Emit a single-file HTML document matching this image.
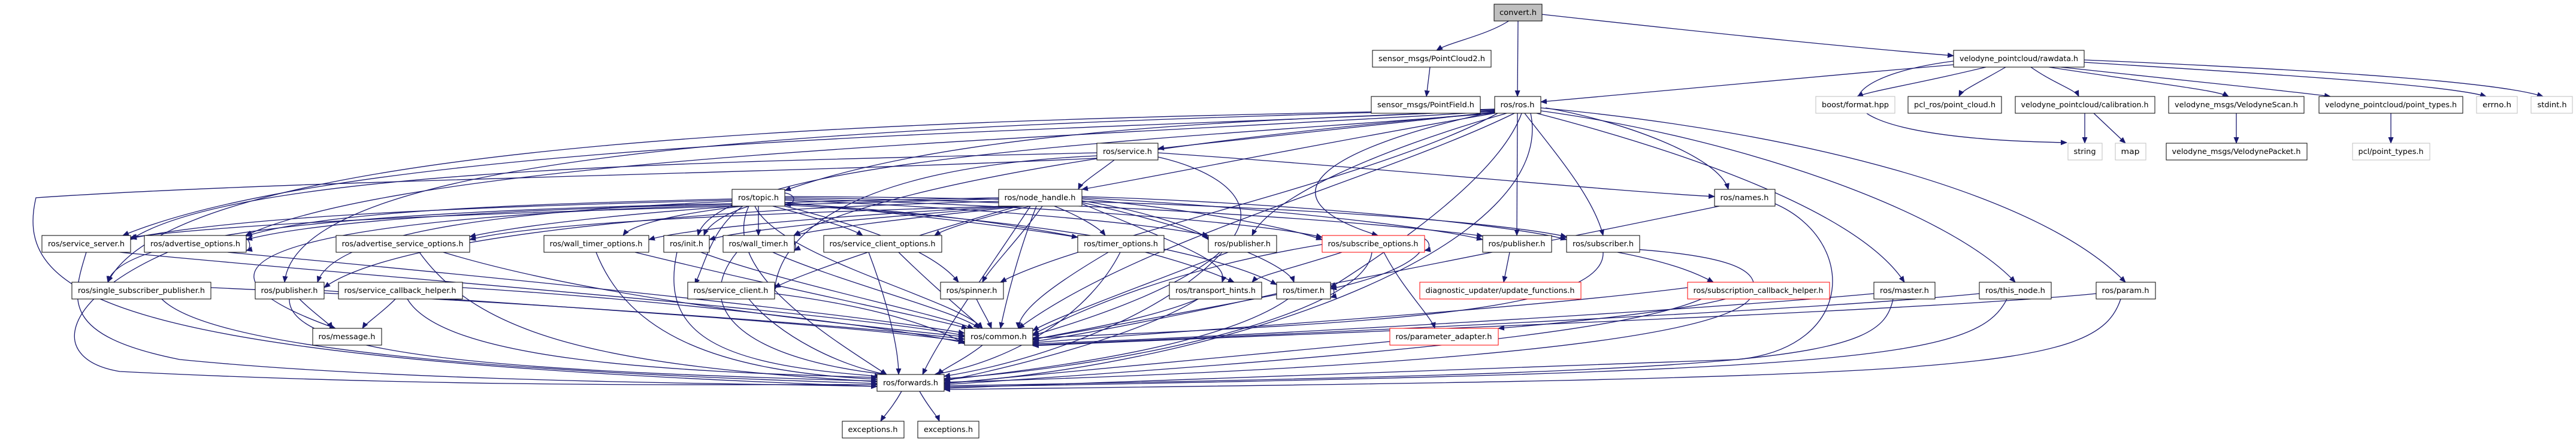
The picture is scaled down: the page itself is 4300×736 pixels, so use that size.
<!DOCTYPE html>
<html><head><meta charset="utf-8"><style>
html,body{margin:0;padding:0;background:#fff;}
svg{display:block;}
text{font-family:"DejaVu Sans","Liberation Sans",sans-serif;font-size:12px;fill:#000;}
.e{fill:none;stroke:#191970;stroke-width:1.3;marker-end:url(#a);}
.n{fill:#fff;stroke:#000;stroke-width:1;}
.g{fill:#fff;stroke:#bfbfbf;stroke-width:1;}
.r{fill:#fff;stroke:#ff0000;stroke-width:1;}
.c{fill:#bfbfbf;stroke:#000;stroke-width:1;}
.s{fill:none;stroke:#555;stroke-width:1.6;}
</style></head><body>
<svg width="4300" height="736" viewBox="0 0 4300 736" xmlns="http://www.w3.org/2000/svg">
<defs><marker id="a" markerWidth="11" markerHeight="9" refX="10" refY="4.5" orient="auto" markerUnits="userSpaceOnUse"><path d="M0,0L11,4.5L0,9z" fill="#191970"/></marker></defs>
<g>
<!-- top -->
<path class="e" d="M2520,34 C2480,60 2420,70 2398,84"/>
<path class="e" d="M2534,34 L2533,161"/>
<path class="e" d="M2574,24 C2900,60 3100,80 3261,93"/>
<path class="e" d="M2387,112 L2381,161"/>
<path class="e" d="M3261,108 C3000,130 2700,160 2572,170"/>
<path class="e" d="M3315,112 C3200,140 3130,150 3100,161"/>
<path class="e" d="M3348,112 C3300,140 3275,150 3270,161"/>
<path class="e" d="M3390,112 C3430,140 3465,150 3470,161"/>
<path class="e" d="M3420,112 C3600,140 3700,150 3720,161"/>
<path class="e" d="M3440,112 C3700,140 3850,155 3890,161"/>
<path class="e" d="M3479,104 C3900,130 4100,145 4150,161"/>
<path class="e" d="M3479,100 C3950,120 4180,140 4245,161"/>
<path class="e" d="M3261,102 C3040,130 3000,230 3450,238"/>
<path class="e" d="M3480,189 L3480,239"/>
<path class="e" d="M3495,189 L3548,239"/>
<path class="e" d="M3733,189 L3733,239"/>
<path class="e" d="M3991,189 L3991,239"/>
<!-- ros.h -->
<path class="e" d="M2495,187 C2200,220 2000,240 1933,248"/>
<path class="e" d="M2495,189 C2200,240 1900,300 1806,316"/>
<path class="e" d="M2495,185 C2100,200 1600,215 1310,318"/>
<path class="e" d="M2580,180 C2700,200 2870,260 2885,316"/>
<path class="e" d="M2495,189 C2000,230 1200,260 1165,393"/>
<path class="e" d="M2515,189 C2300,250 2120,330 2090,393"/>
<path class="e" d="M2533,189 L2532,393"/>
<path class="e" d="M2545,189 C2600,260 2660,330 2676,393"/>
<path class="e" d="M2528,189 C2300,300 1900,400 1700,548"/>
<path class="e" d="M2555,189 C2600,400 2100,600 1576,640"/>
<path class="e" d="M2565,189 C2800,250 3100,350 3179,471"/>
<path class="e" d="M2572,185 C2900,230 3250,350 3364,471"/>
<path class="e" d="M2572,180 C3000,220 3400,320 3548,471"/>
<path class="e" d="M2495,184 C1800,220 600,230 205,393"/>
<path class="e" d="M2495,186 C1800,230 700,260 410,393"/>
<path class="e" d="M2495,188 C2000,230 1500,300 1325,393"/>
<path class="e" d="M2540,189 C2500,300 2300,430 2221,480"/>
<path class="e" d="M2500,189 C2300,300 1800,400 1670,471"/>
<path class="e" d="M2495,183 C1500,200 300,230 180,471"/>
<path class="e" d="M2495,182 C1500,210 500,240 475,471"/>
<path class="e" d="M2495,186 C2200,250 2100,330 2300,393"/>
<!-- service.h -->
<path class="e" d="M1860,267 C1830,290 1805,305 1800,316"/>
<path class="e" d="M1933,255 C2300,280 2700,320 2862,328"/>
<path class="e" d="M1831,260 C1400,280 1300,400 1293,485"/>
<path class="e" d="M1933,262 C2100,300 2200,420 1724,560"/>
<path class="e" d="M1831,255 C1200,270 400,280 218,400"/>
<path class="e" d="M1831,264 C1300,290 500,300 60,330 C20,500 200,600 1464,645"/>
<!-- node_handle -->
<path class="e" d="M1667,330 C1200,340 600,350 411,400"/>
<path class="e" d="M1667,332 C1200,345 500,360 218,396"/>
<path class="e" d="M1680,344 C1300,355 900,370 784,400"/>
<path class="e" d="M1690,344 C1400,360 1150,380 1083,400"/>
<path class="e" d="M1700,344 C1500,360 1250,380 1184,400"/>
<path class="e" d="M1710,344 C1500,365 1350,385 1326,393"/>
<path class="e" d="M1720,344 C1650,360 1580,380 1560,393"/>
<path class="e" d="M1760,344 C1800,360 1835,380 1845,393"/>
<path class="e" d="M1806,335 C1900,350 2000,380 2017,400"/>
<path class="e" d="M1806,332 C2000,350 2150,380 2207,400"/>
<path class="e" d="M1806,330 C2100,345 2400,380 2475,400"/>
<path class="e" d="M1806,328 C2200,340 2550,380 2615,400"/>
<path class="e" d="M1700,344 C1500,400 1330,460 1293,480"/>
<path class="e" d="M1740,344 C1700,400 1650,450 1640,471"/>
<path class="e" d="M1806,338 C2000,380 2150,440 2160,471"/>
<path class="e" d="M1730,344 C1700,420 1680,500 1670,548"/>
<path class="e" d="M1720,344 C1650,450 1570,560 1540,625"/>
<path class="e" d="M1667,336 C1100,350 650,400 541,480"/>
<path class="e" d="M1806,340 C2000,420 2050,440 2040,471"/>
<!-- topic -->
<path class="e" d="M1222,332 C900,340 550,350 411,394"/>
<path class="e" d="M1222,334 C800,345 400,360 218,398"/>
<path class="e" d="M1230,344 C1000,360 850,380 784,395"/>
<path class="e" d="M1240,344 C1100,360 1050,380 1040,393"/>
<path class="e" d="M1250,344 C1200,360 1180,380 1175,393"/>
<path class="e" d="M1266,344 L1266,393"/>
<path class="e" d="M1290,344 C1350,360 1420,380 1440,393"/>
<path class="e" d="M1310,338 C1500,355 1700,380 1799,396"/>
<path class="e" d="M1310,334 C1600,345 1900,370 2017,393"/>
<path class="e" d="M1310,332 C1700,340 2100,370 2207,396"/>
<path class="e" d="M1310,330 C1800,335 2300,370 2475,394"/>
<path class="e" d="M1310,328 C1900,330 2450,360 2615,395"/>
<path class="e" d="M1222,336 C900,350 560,380 530,471"/>
<path class="e" d="M1240,344 C1190,380 1180,430 1160,475"/>
<path class="e" d="M1310,344 C1450,380 1560,420 1600,471"/>
<path class="e" d="M1260,344 C1300,430 1600,500 1640,548"/>
<path class="e" d="M1250,344 C1200,450 1380,560 1480,625"/>
<path class="e" d="M1222,340 C700,350 200,380 180,471"/>
<path class="e" d="M1222,342 C600,360 200,420 560,548"/>
<path class="e" d="M1310,340 C1700,360 1950,420 2060,471"/>
<path class="e" d="M1310,342 C1800,370 2050,430 2131,475"/>
<!-- row393 -> common/forwards -->
<path class="e" d="M144,421 C120,500 100,560 300,600 C700,640 1300,640 1464,645"/>
<path class="e" d="M200,421 C600,460 1400,520 1610,560"/>
<path class="e" d="M280,421 C100,500 80,600 200,620 C800,650 1300,640 1464,642"/>
<path class="e" d="M380,421 C800,460 1400,520 1610,556"/>
<path class="e" d="M700,421 C800,560 1000,610 1464,637"/>
<path class="e" d="M740,421 C1000,500 1400,540 1610,562"/>
<path class="e" d="M995,421 C1050,560 1200,620 1464,633"/>
<path class="e" d="M1060,421 C1300,480 1550,530 1615,548"/>
<path class="e" d="M1130,421 C1100,560 1200,610 1470,628"/>
<path class="e" d="M1170,421 C1300,470 1550,520 1625,548"/>
<path class="e" d="M1230,421 C1150,520 1250,600 1480,625"/>
<path class="e" d="M1290,421 C1400,470 1600,520 1635,548"/>
<path class="e" d="M1450,421 C1480,500 1500,580 1500,625"/>
<path class="e" d="M1500,421 C1560,480 1620,530 1640,548"/>
<path class="e" d="M1850,421 C1750,480 1700,520 1700,548"/>
<path class="e" d="M1870,421 C1820,520 1700,600 1560,625"/>
<path class="e" d="M2050,421 C1900,480 1760,530 1724,552"/>
<path class="e" d="M2040,421 C1950,520 1750,600 1576,628"/>
<path class="e" d="M2240,421 C2150,450 2100,460 2090,471"/>
<path class="e" d="M2310,421 C2340,480 2390,530 2395,548"/>
<path class="e" d="M2207,408 C1950,450 1800,520 1724,558"/>
<path class="e" d="M2290,421 C2280,520 1900,610 1576,632"/>
<path class="e" d="M2378,400 C2380,440 2280,470 2221,482"/>
<path class="e" d="M2520,421 L2510,471"/>
<path class="e" d="M2700,421 C2800,440 2840,460 2860,471"/>
<path class="e" d="M2676,421 C2680,520 2300,540 1724,564"/>
<path class="e" d="M2615,410 C2900,420 2950,450 2920,500 C2850,580 2200,620 1576,638"/>
<!-- row471 -->
<path class="e" d="M270,499 C350,580 800,620 1464,640"/>
<path class="e" d="M352,480 C800,500 1400,540 1610,566"/>
<path class="e" d="M483,499 C480,600 900,620 1464,636"/>
<path class="e" d="M541,485 C900,510 1400,540 1610,570"/>
<path class="e" d="M500,499 C520,520 550,540 555,548"/>
<path class="e" d="M660,499 C640,520 610,540 605,548"/>
<path class="e" d="M680,499 C740,600 1100,620 1464,630"/>
<path class="e" d="M772,480 C1100,500 1450,540 1610,572"/>
<path class="e" d="M1250,499 C1300,560 1400,610 1480,625"/>
<path class="e" d="M1293,490 C1450,510 1550,540 1612,574"/>
<path class="e" d="M1630,499 C1640,520 1650,535 1655,548"/>
<path class="e" d="M2000,499 C1900,540 1740,560 1724,568"/>
<path class="e" d="M2000,499 C1900,560 1700,610 1576,636"/>
<path class="e" d="M2131,490 C2000,520 1800,560 1724,570"/>
<path class="e" d="M2150,499 C2050,570 1800,610 1576,634"/>
<path class="e" d="M2880,499 C2800,520 2600,540 2501,548"/>
<path class="e" d="M2840,499 C2700,560 2200,600 1576,642"/>
<path class="e" d="M2817,480 C2500,520 2000,550 1724,572"/>
<path class="e" d="M3128,490 C2800,520 2100,560 1724,574"/>
<path class="e" d="M3160,499 C3140,600 3000,620 1576,644"/>
<path class="e" d="M3304,490 C3000,520 2100,560 1724,576"/>
<path class="e" d="M3350,499 C3300,600 3100,620 1576,646"/>
<path class="e" d="M3499,490 C3200,520 2100,560 1724,577"/>
<path class="e" d="M3540,499 C3500,620 3300,630 1576,650"/>
<path class="e" d="M2870,344 C2600,400 1900,540 1724,566"/>
<path class="e" d="M2963,340 C3100,400 3100,580 2900,600 C2400,620 1900,640 1576,648"/>
<path class="e" d="M2320,570 C2000,600 1700,630 1576,640"/>
<!-- common/forwards -->
<path class="e" d="M1640,576 C1610,600 1575,615 1565,625"/>
<path class="e" d="M1505,653 C1490,680 1475,695 1470,703"/>
<path class="e" d="M1535,653 C1550,680 1565,695 1568,703"/>
<!-- self loops -->
<path class="e" d="M1310,322 C1330,325 1330,340 1310,342"/>
<path class="e" d="M400,393 C420,396 420,416 411,418"/>
<path class="e" d="M1310,393 C1330,396 1330,416 1326,418"/>
<path class="e" d="M2360,393 C2390,396 2390,416 2378,418"/>
<path class="e" d="M2210,471 C2230,474 2230,494 2221,496"/>
</g>
<!-- nodes -->
<g>
<rect class="c" x="2494" y="7" width="80" height="28"/><text x="2534" y="25" text-anchor="middle" textLength="62" lengthAdjust="spacingAndGlyphs">convert.h</text>
<rect class="n" x="2291" y="84" width="198" height="28"/><text x="2390" y="102" text-anchor="middle" textLength="178" lengthAdjust="spacingAndGlyphs">sensor_msgs/PointCloud2.h</text>
<rect class="n" x="2289" y="161" width="182" height="28"/><text x="2380" y="179" text-anchor="middle" textLength="162" lengthAdjust="spacingAndGlyphs">sensor_msgs/PointField.h</text>
<rect class="n" x="2495" y="161" width="77" height="28"/><text x="2533" y="179" text-anchor="middle" textLength="57" lengthAdjust="spacingAndGlyphs">ros/ros.h</text>
<rect class="n" x="3261" y="84" width="218" height="28"/><text x="3370" y="102" text-anchor="middle" textLength="198" lengthAdjust="spacingAndGlyphs">velodyne_pointcloud/rawdata.h</text>
<rect class="g" x="3031" y="161" width="132" height="28"/><text x="3097" y="179" text-anchor="middle" textLength="112" lengthAdjust="spacingAndGlyphs">boost/format.hpp</text>
<rect class="n" x="3185" y="161" width="156" height="28"/><text x="3263" y="179" text-anchor="middle" textLength="136" lengthAdjust="spacingAndGlyphs">pcl_ros/point_cloud.h</text>
<rect class="n" x="3364" y="161" width="233" height="28"/><text x="3480" y="179" text-anchor="middle" textLength="213" lengthAdjust="spacingAndGlyphs">velodyne_pointcloud/calibration.h</text>
<rect class="n" x="3620" y="161" width="226" height="28"/><text x="3733" y="179" text-anchor="middle" textLength="206" lengthAdjust="spacingAndGlyphs">velodyne_msgs/VelodyneScan.h</text>
<rect class="n" x="3871" y="161" width="240" height="28"/><text x="3991" y="179" text-anchor="middle" textLength="220" lengthAdjust="spacingAndGlyphs">velodyne_pointcloud/point_types.h</text>
<rect class="g" x="4134" y="161" width="68" height="28"/><text x="4168" y="179" text-anchor="middle" textLength="48" lengthAdjust="spacingAndGlyphs">errno.h</text>
<rect class="g" x="4225" y="161" width="69" height="28"/><text x="4260" y="179" text-anchor="middle" textLength="49" lengthAdjust="spacingAndGlyphs">stdint.h</text>
<rect class="g" x="3452" y="239" width="57" height="28"/><text x="3480" y="257" text-anchor="middle" textLength="37" lengthAdjust="spacingAndGlyphs">string</text>
<rect class="g" x="3531" y="239" width="51" height="28"/><text x="3556" y="257" text-anchor="middle" textLength="31" lengthAdjust="spacingAndGlyphs">map</text>
<rect class="n" x="3616" y="239" width="235" height="28"/><text x="3733" y="257" text-anchor="middle" textLength="215" lengthAdjust="spacingAndGlyphs">velodyne_msgs/VelodynePacket.h</text>
<rect class="g" x="3927" y="239" width="129" height="28"/><text x="3991" y="257" text-anchor="middle" textLength="109" lengthAdjust="spacingAndGlyphs">pcl/point_types.h</text>
<rect class="n" x="1831" y="239" width="102" height="28"/><text x="1882" y="257" text-anchor="middle" textLength="82" lengthAdjust="spacingAndGlyphs">ros/service.h</text>
<rect class="n" x="1667" y="316" width="139" height="28"/><text x="1736" y="334" text-anchor="middle" textLength="119" lengthAdjust="spacingAndGlyphs">ros/node_handle.h</text>
<rect class="n" x="1222" y="316" width="88" height="28"/><text x="1266" y="334" text-anchor="middle" textLength="68" lengthAdjust="spacingAndGlyphs">ros/topic.h</text>
<rect class="n" x="2862" y="316" width="101" height="28"/><text x="2912" y="334" text-anchor="middle" textLength="81" lengthAdjust="spacingAndGlyphs">ros/names.h</text>
<rect class="n" x="70" y="393" width="148" height="28"/><text x="144" y="411" text-anchor="middle" textLength="128" lengthAdjust="spacingAndGlyphs">ros/service_server.h</text>
<rect class="n" x="241" y="393" width="170" height="28"/><text x="326" y="411" text-anchor="middle" textLength="150" lengthAdjust="spacingAndGlyphs">ros/advertise_options.h</text>
<rect class="n" x="561" y="393" width="223" height="28"/><text x="672" y="411" text-anchor="middle" textLength="203" lengthAdjust="spacingAndGlyphs">ros/advertise_service_options.h</text>
<rect class="n" x="908" y="393" width="175" height="28"/><text x="995" y="411" text-anchor="middle" textLength="155" lengthAdjust="spacingAndGlyphs">ros/wall_timer_options.h</text>
<rect class="n" x="1108" y="393" width="76" height="28"/><text x="1146" y="411" text-anchor="middle" textLength="56" lengthAdjust="spacingAndGlyphs">ros/init.h</text>
<rect class="n" x="1207" y="393" width="119" height="28"/><text x="1266" y="411" text-anchor="middle" textLength="99" lengthAdjust="spacingAndGlyphs">ros/wall_timer.h</text>
<rect class="n" x="1375" y="393" width="197" height="28"/><text x="1473" y="411" text-anchor="middle" textLength="177" lengthAdjust="spacingAndGlyphs">ros/service_client_options.h</text>
<rect class="n" x="1799" y="393" width="144" height="28"/><text x="1871" y="411" text-anchor="middle" textLength="124" lengthAdjust="spacingAndGlyphs">ros/timer_options.h</text>
<rect class="n" x="2017" y="393" width="114" height="28"/><text x="2074" y="411" text-anchor="middle" textLength="94" lengthAdjust="spacingAndGlyphs">ros/publisher.h</text>
<rect class="r" x="2207" y="393" width="171" height="28"/><text x="2292" y="411" text-anchor="middle" textLength="151" lengthAdjust="spacingAndGlyphs">ros/subscribe_options.h</text>
<rect class="n" x="2475" y="393" width="115" height="28"/><text x="2532" y="411" text-anchor="middle" textLength="95" lengthAdjust="spacingAndGlyphs">ros/publisher.h</text>
<rect class="n" x="2615" y="393" width="122" height="28"/><text x="2676" y="411" text-anchor="middle" textLength="102" lengthAdjust="spacingAndGlyphs">ros/subscriber.h</text>
<rect class="n" x="120" y="471" width="232" height="28"/><text x="236" y="489" text-anchor="middle" textLength="212" lengthAdjust="spacingAndGlyphs">ros/single_subscriber_publisher.h</text>
<rect class="n" x="426" y="471" width="115" height="28"/><text x="483" y="489" text-anchor="middle" textLength="95" lengthAdjust="spacingAndGlyphs">ros/publisher.h</text>
<rect class="n" x="565" y="471" width="207" height="28"/><text x="668" y="489" text-anchor="middle" textLength="187" lengthAdjust="spacingAndGlyphs">ros/service_callback_helper.h</text>
<rect class="n" x="1148" y="471" width="145" height="28"/><text x="1220" y="489" text-anchor="middle" textLength="125" lengthAdjust="spacingAndGlyphs">ros/service_client.h</text>
<rect class="n" x="1570" y="471" width="105" height="28"/><text x="1622" y="489" text-anchor="middle" textLength="85" lengthAdjust="spacingAndGlyphs">ros/spinner.h</text>
<rect class="n" x="1952" y="471" width="154" height="28"/><text x="2029" y="489" text-anchor="middle" textLength="134" lengthAdjust="spacingAndGlyphs">ros/transport_hints.h</text>
<rect class="n" x="2131" y="471" width="90" height="28"/><text x="2176" y="489" text-anchor="middle" textLength="70" lengthAdjust="spacingAndGlyphs">ros/timer.h</text>
<rect class="r" x="2370" y="471" width="269" height="28"/><text x="2504" y="489" text-anchor="middle" textLength="249" lengthAdjust="spacingAndGlyphs">diagnostic_updater/update_functions.h</text>
<rect class="r" x="2817" y="471" width="237" height="28"/><text x="2935" y="489" text-anchor="middle" textLength="217" lengthAdjust="spacingAndGlyphs">ros/subscription_callback_helper.h</text>
<rect class="n" x="3128" y="471" width="102" height="28"/><text x="3179" y="489" text-anchor="middle" textLength="82" lengthAdjust="spacingAndGlyphs">ros/master.h</text>
<rect class="n" x="3304" y="471" width="120" height="28"/><text x="3364" y="489" text-anchor="middle" textLength="100" lengthAdjust="spacingAndGlyphs">ros/this_node.h</text>
<rect class="n" x="3499" y="471" width="99" height="28"/><text x="3548" y="489" text-anchor="middle" textLength="79" lengthAdjust="spacingAndGlyphs">ros/param.h</text>
<rect class="n" x="522" y="548" width="115" height="28"/><text x="579" y="566" text-anchor="middle" textLength="95" lengthAdjust="spacingAndGlyphs">ros/message.h</text>
<rect class="n" x="1610" y="548" width="114" height="28"/><text x="1667" y="566" text-anchor="middle" textLength="94" lengthAdjust="spacingAndGlyphs">ros/common.h</text>
<rect class="r" x="2320" y="548" width="181" height="28"/><text x="2410" y="566" text-anchor="middle" textLength="161" lengthAdjust="spacingAndGlyphs">ros/parameter_adapter.h</text>
<rect class="n" x="1464" y="625" width="112" height="28"/><text x="1520" y="643" text-anchor="middle" textLength="92" lengthAdjust="spacingAndGlyphs">ros/forwards.h</text>
<rect class="n" x="1406" y="703" width="103" height="28"/><text x="1457" y="721" text-anchor="middle" textLength="83" lengthAdjust="spacingAndGlyphs">exceptions.h</text>
<rect class="n" x="1532" y="703" width="102" height="28"/><text x="1583" y="721" text-anchor="middle" textLength="82" lengthAdjust="spacingAndGlyphs">exceptions.h</text>
</g>
</svg>
</body></html>
